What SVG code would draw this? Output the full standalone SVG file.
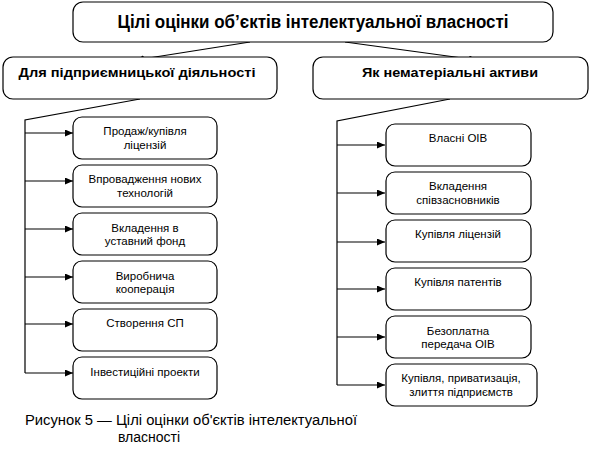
<svg xmlns="http://www.w3.org/2000/svg" width="590" height="450" viewBox="0 0 590 450">
<defs>
<style>
.box{fill:#fff;stroke:#000;stroke-width:1.2}
.ln{fill:none;stroke:#000;stroke-width:1.2}
.t{font-family:"Liberation Sans",Arial,sans-serif;font-size:11.5px;text-anchor:middle;fill:#000}
.b{font-family:"Liberation Sans",Arial,sans-serif;font-weight:bold;text-anchor:middle;fill:#000}
.cap{font-family:"Liberation Sans",Arial,sans-serif;font-size:14px;fill:#000}
</style>
<marker id="ah" markerUnits="userSpaceOnUse" markerWidth="9" markerHeight="8" refX="8" refY="3.5" orient="auto">
<path d="M0,0 L8,3.5 L0,7 z" fill="#000"/>
</marker>
</defs>
<rect width="590" height="450" fill="#fff"/>
<g id="connectors">
<line class="ln" x1="250" y1="42" x2="136" y2="60" marker-end="url(#ah)"/>
<line class="ln" x1="345" y1="42" x2="477" y2="60" marker-end="url(#ah)"/>
<polyline class="ln" points="140,99 25,120 25,373"/>
<line class="ln" x1="25" y1="133" x2="73" y2="133" marker-end="url(#ah)"/>
<line class="ln" x1="25" y1="181" x2="73" y2="181" marker-end="url(#ah)"/>
<line class="ln" x1="25" y1="229" x2="73" y2="229" marker-end="url(#ah)"/>
<line class="ln" x1="25" y1="277" x2="73" y2="277" marker-end="url(#ah)"/>
<line class="ln" x1="25" y1="324" x2="73" y2="324" marker-end="url(#ah)"/>
<line class="ln" x1="25" y1="373" x2="73" y2="373" marker-end="url(#ah)"/>
<polyline class="ln" points="450,99 337,121 337,385"/>
<line class="ln" x1="337" y1="145" x2="385" y2="145" marker-end="url(#ah)"/>
<line class="ln" x1="337" y1="193" x2="385" y2="193" marker-end="url(#ah)"/>
<line class="ln" x1="337" y1="242" x2="385" y2="242" marker-end="url(#ah)"/>
<line class="ln" x1="337" y1="289" x2="385" y2="289" marker-end="url(#ah)"/>
<line class="ln" x1="337" y1="337" x2="385" y2="337" marker-end="url(#ah)"/>
<line class="ln" x1="337" y1="385" x2="385" y2="385" marker-end="url(#ah)"/>
</g>
<g id="root">
<rect class="box" x="73" y="2" width="480" height="40" rx="10"/>
<text class="b" x="313" y="28" font-size="18" textLength="391" lengthAdjust="spacingAndGlyphs">Цілі оцінки об’єктів інтелектуальної власності</text>
</g>
<g id="enterprise">
<rect class="box" x="3" y="57" width="274" height="42" rx="10"/>
<text class="b" x="137" y="77" font-size="13" textLength="237" lengthAdjust="spacingAndGlyphs">Для підприємницької діяльності</text>
</g>
<g id="intangible">
<rect class="box" x="313" y="57" width="275" height="42" rx="10"/>
<text class="b" x="450" y="77" font-size="13" textLength="176" lengthAdjust="spacingAndGlyphs">Як нематеріальні активи</text>
</g>
<g id="l1"><rect class="box" x="73" y="117" width="144" height="42" rx="9"/>
<text class="t" x="145" y="135">Продаж/купівля</text><text class="t" x="145" y="148.5">ліцензій</text></g>
<g id="l2"><rect class="box" x="73" y="165" width="144" height="42" rx="9"/>
<text class="t" x="145" y="183">Впровадження нових</text><text class="t" x="145" y="196.5">технологій</text></g>
<g id="l3"><rect class="box" x="73" y="213" width="144" height="42" rx="9"/>
<text class="t" x="145" y="231.5">Вкладення в</text><text class="t" x="145" y="245">уставний фонд</text></g>
<g id="l4"><rect class="box" x="73" y="261" width="144" height="42" rx="9"/>
<text class="t" x="145" y="279.5">Виробнича</text><text class="t" x="145" y="293">кооперація</text></g>
<g id="l5"><rect class="box" x="73" y="309" width="144" height="42" rx="9"/>
<text class="t" x="145" y="327">Створення СП</text></g>
<g id="l6"><rect class="box" x="73" y="357" width="144" height="42" rx="9"/>
<text class="t" x="145" y="376">Інвестиційні проекти</text></g>
<g id="r1"><rect class="box" x="386" y="124" width="145" height="42" rx="9"/>
<text class="t" x="458" y="142">Власні ОІВ</text></g>
<g id="r2"><rect class="box" x="386" y="172" width="145" height="42" rx="9"/>
<text class="t" x="458" y="190">Вкладення</text><text class="t" x="458" y="203.5">співзасновників</text></g>
<g id="r3"><rect class="box" x="386" y="220" width="145" height="42" rx="9"/>
<text class="t" x="458" y="238">Купівля ліцензій</text></g>
<g id="r4"><rect class="box" x="386" y="268" width="145" height="42" rx="9"/>
<text class="t" x="458" y="286">Купівля патентів</text></g>
<g id="r5"><rect class="box" x="386" y="316" width="145" height="42" rx="9"/>
<text class="t" x="458" y="334.5">Безоплатна</text><text class="t" x="458" y="348">передача ОІВ</text></g>
<g id="r6"><rect class="box" x="386" y="364" width="151" height="42" rx="9"/>
<text class="t" x="461" y="382">Купівля, приватизація,</text><text class="t" x="461" y="395.5">злиття підприємств</text></g>
<g id="caption">
<text class="cap" x="25" y="425" textLength="332" lengthAdjust="spacingAndGlyphs">Рисунок 5 — Цілі оцінки об'єктів інтелектуальної</text>
<text class="cap" x="118" y="442">власності</text>
</g>
</svg>
